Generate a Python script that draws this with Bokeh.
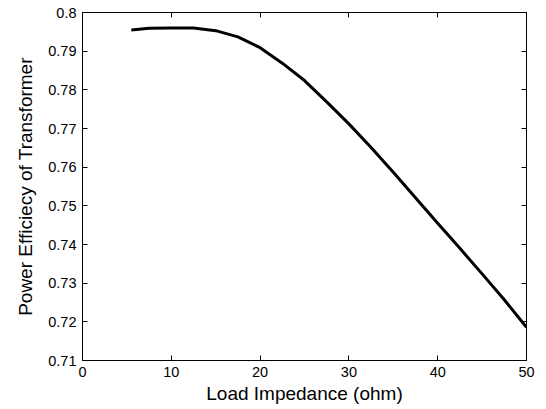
from bokeh.plotting import figure
from bokeh.models import Range1d, FixedTicker, LinearAxis
from bokeh.embed import file_html
from bokeh.resources import INLINE

# Data
load_ohm = [5.5, 7.5, 10, 12.5, 15, 17.5, 20, 22.5, 25, 27.5, 30, 32.5, 35, 37.5, 40, 42.5, 45, 47.5, 50]
efficiency = [0.7955, 0.7959, 0.7960, 0.7960, 0.7953, 0.7937, 0.7909, 0.7869, 0.7824, 0.7769,
              0.7712, 0.7651, 0.7587, 0.7521, 0.7455, 0.7390, 0.7324, 0.7257, 0.7186]

x_ticks = [0, 10, 20, 30, 40, 50]
x_tick_labels = ["0", "10", "20", "30", "40", "50"]
y_ticks = [0.71, 0.72, 0.73, 0.74, 0.75, 0.76, 0.77, 0.78, 0.79, 0.80]
y_tick_labels = ["0.71", "0.72", "0.73", "0.74", "0.75", "0.76", "0.77", "0.78", "0.79", "0.8"]

FONT = "Liberation Sans"

p = figure(frame_width=444, frame_height=348, output_backend="svg", toolbar_location=None,
           x_range=Range1d(0, 50), y_range=Range1d(0.71, 0.80),
           min_border_left=82, min_border_right=12, min_border_top=12, min_border_bottom=41,
           background_fill_color="white", border_fill_color="white")
p.grid.visible = False
p.outline_line_color = "black"
p.outline_line_width = 1

p.line(load_ohm, efficiency, line_color="black", line_width=3, line_join="round")

def style(ax, labels=True):
    ax.axis_line_color = "black"
    ax.major_tick_in = 5
    ax.major_tick_out = 0
    ax.minor_tick_line_color = None
    ax.major_tick_line_color = "black"
    if labels:
        ax.major_label_text_font = FONT
        ax.major_label_text_font_size = "14.5px"
        ax.major_label_text_color = "black"
        ax.axis_label_text_font = FONT
        ax.axis_label_text_font_size = "19px"
        ax.axis_label_text_font_style = "normal"
        ax.axis_label_text_color = "black"

xa = p.xaxis[0]
xa.ticker = FixedTicker(ticks=x_ticks)
xa.major_label_overrides = dict(zip(x_ticks, x_tick_labels))
xa.axis_label = "Load Impedance (ohm)"
style(xa)
xa.major_label_standoff = 6
xa.axis_label_standoff = 3

ya = p.yaxis[0]
ya.ticker = FixedTicker(ticks=y_ticks)
ya.major_label_overrides = dict(zip(y_ticks, y_tick_labels))
ya.axis_label = "Power Efficiecy of Transformer"
style(ya)
ya.major_label_standoff = 6
ya.axis_label_standoff = 9

top = LinearAxis(ticker=FixedTicker(ticks=x_ticks))
style(top, labels=False)
top.major_label_overrides = {t: "" for t in x_ticks}
top.major_label_standoff = 0
p.add_layout(top, "above")

right = LinearAxis(ticker=FixedTicker(ticks=y_ticks))
style(right, labels=False)
right.major_label_overrides = {t: "" for t in y_ticks}
right.major_label_standoff = 0
p.add_layout(right, "right")

open("out.html", "w").write(file_html(p, INLINE))
